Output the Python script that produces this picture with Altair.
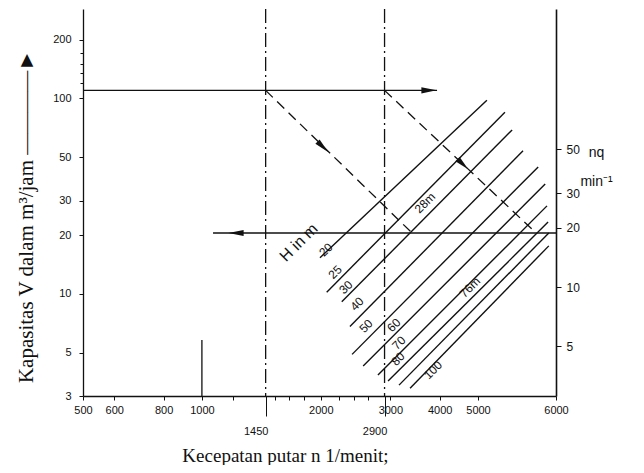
import altair as alt
import pandas as pd

# ---- H lines (head H in m): end points (n in 1/min, V in m3/jam)
H_m = [20, 25, 30, 40, 50, 60, 70, 80, 90, 100]
H_n_lo = [1990, 2070, 2260, 2370, 2400, 2560, 2790, 2960, 3155, 3365]
H_V_lo = [15.3, 10.2, 9.1, 6.8, 4.9, 4.27, 3.84, 3.58, 3.41, 3.29]
H_n_hi = [5105, 5325, 5415, 5555, 5755, 5850, 5875, 5890, 5900, 5900]
H_V_hi = [98, 85, 69, 54, 44.6, 36.5, 28.2, 23.3, 20.5, 17.6]

# labels written along the H lines
lab_text = ["20", "25", "30", "40", "50", "60", "70", "80", "100", "28m", "76m"]
lab_n = [2061, 2173, 2316, 2470, 2603, 3064, 3155, 3137, 3847, 3671, 4771]
lab_V = [16.8, 12.9, 10.8, 8.87, 6.84, 6.92, 5.6, 4.64, 4.07, 29.2, 10.8]

hlab_text = ["H  in  m"]
hlab_n = [1760]
hlab_V = [18.3]

# chosen speeds (dash-dot verticals)
speed_n = [1450, 2900]
speed_V_top = [287, 287]
speed_V_bot = [3, 3]

# dashed construction diagonals
diag_n1 = [1450, 2900]
diag_V1 = [110, 110]
diag_n2 = [3403, 5726]
diag_V2 = [20.5, 20.5]

# horizontal reading lines
hor_n1 = [500, 1067]
hor_n2 = [3938, 6000]
hor_V = [110, 20.5]

# arrow heads
arr_n = [3757, 1220, 2025, 4581]
arr_V = [110, 20.5, 56.5, 46.0]
arr_angle = [90, 270, 134, 134]

# short solid mark at n = 1000
mark_n = [1000]
mark_V1 = [3]
mark_V2 = [5.8]

# axis ticks
x_ticks = [500, 600, 800, 1000, 1200, 1450, 1530, 1660, 1810, 2000, 2220, 2420, 2640,
           2900, 3000, 4000, 5000, 6000]
x_labeled = [500, 600, 800, 1000, 1450, 2000, 2900, 3000, 4000, 5000, 6000]
y_ticks = [3, 5, 10, 20, 30, 50, 100, 120, 135, 150, 170, 200]
y_labeled = [3, 5, 10, 20, 30, 50, 100, 200]
nq_ticks = [5, 10, 20, 30, 50]

# ---------------- scales & axes ----------------
xscale = alt.Scale(type="log", domain=[500, 5000, 6000], range=[0, 395, 473], nice=False)
yscale = alt.Scale(type="log", domain=[3, 287], nice=False)
nqscale = alt.Scale(type="log", domain=[2.8, 257.7], nice=False)

sel = "datum.value == 1450 || datum.value == 2900"
xaxis = alt.Axis(
    values=x_ticks, format="d",
    labelExpr="indexof(%s, datum.value) >= 0 ? datum.label : ''" % str(x_labeled),
    tickSize={"condition": {"test": sel, "value": 20}, "value": 4},
    labelPadding={"condition": {"test": sel, "value": 9}, "value": 4},
    labelOffset={"condition": {"test": sel, "value": -10}, "value": 0},
    labelOverlap=False, labelFlush=False, grid=False,
    labelFont="Liberation Sans", labelFontSize=11,
    title="Kecepatan putar n  1/menit;", titleFont="Liberation Serif",
    titleFontSize=19, titleFontWeight="normal", titleX=202, titleY=59,
    titleAlign="center", titleBaseline="middle", domainWidth=1.3,
)
yaxis = alt.Axis(
    values=y_ticks, format="d",
    labelExpr="indexof(%s, datum.value) >= 0 ? datum.label : ''" % str(y_labeled),
    tickSize={"condition": {"test": "indexof(%s, datum.value) >= 0" % str(y_labeled), "value": 4}, "value": 3},
    labelPadding=8, labelOverlap=False, grid=False,
    labelFont="Liberation Sans", labelFontSize=11,
    title="Kapasitas V dalam m\u00b3/jam      \u2014\u2014\u2014\u2014\u25ba",
    titleFont="Liberation Serif", titleFontSize=21, titleFontWeight="normal",
    titleAngle=270, titleX=-57, titleY=207, titleAlign="center", titleBaseline="middle",
    domainWidth=1.3,
)
nqaxis = alt.Axis(
    orient="right", values=nq_ticks, format="d", grid=False,
    tickSize=5, labelPadding=5, labelFont="Liberation Sans", labelFontSize=12,
    title=["nq", "min\u207b\u00b9"], titleAngle=0, titleX=40, titleY=143,
    titleAlign="center", titleBaseline="middle", titleFont="Liberation Sans",
    titleFontSize=14, titleFontWeight="normal", titleLineHeight=29, domainWidth=1.6,
)


def X(f):
    return alt.X(f, type="quantitative", scale=xscale, axis=xaxis)


def Y(f):
    return alt.Y(f, type="quantitative", scale=yscale, axis=yaxis)


INK = "#111111"

h_df = pd.DataFrame({"H": H_m, "n1": H_n_lo, "V1": H_V_lo, "n2": H_n_hi, "V2": H_V_hi})
h_layer = alt.Chart(h_df).mark_rule(color=INK, strokeWidth=1.4).encode(
    x=X("n1"), x2=alt.X2("n2"), y=Y("V1"), y2=alt.Y2("V2"))

sp_df = pd.DataFrame({"n": speed_n, "Vt": speed_V_top, "Vb": speed_V_bot})
sp_layer = alt.Chart(sp_df).mark_rule(color=INK, strokeWidth=1.3, strokeDash=[14, 4, 2, 4]).encode(
    x=X("n"), y=Y("Vt"), y2=alt.Y2("Vb"))

dg_df = pd.DataFrame({"n1": diag_n1, "V1": diag_V1, "n2": diag_n2, "V2": diag_V2})
dg_layer = alt.Chart(dg_df).mark_rule(color=INK, strokeWidth=1.3, strokeDash=[10, 6]).encode(
    x=X("n1"), x2=alt.X2("n2"), y=Y("V1"), y2=alt.Y2("V2"))

hr_df = pd.DataFrame({"n1": hor_n1, "n2": hor_n2, "V": hor_V})
hr_layer = alt.Chart(hr_df).mark_rule(color=INK, strokeWidth=1.4).encode(
    x=X("n1"), x2=alt.X2("n2"), y=Y("V"))

mk_df = pd.DataFrame({"n": mark_n, "V1": mark_V1, "V2": mark_V2})
mk_layer = alt.Chart(mk_df).mark_rule(color=INK, strokeWidth=1.3).encode(
    x=X("n"), y=Y("V1"), y2=alt.Y2("V2"))

ar_df = pd.DataFrame({"n": arr_n, "V": arr_V, "a": arr_angle})
ar_layer = alt.Chart(ar_df).mark_point(
    shape="M0,-1L0.4,1L-0.4,1Z", filled=True, color=INK, opacity=1, size=230
).encode(x=X("n"), y=Y("V"), angle=alt.Angle("a:Q", scale=None))

lb_df = pd.DataFrame({"t": lab_text, "n": lab_n, "V": lab_V})
lb_layer = alt.Chart(lb_df).mark_text(
    angle=315, font="Liberation Sans", fontSize=12, color=INK, align="center", baseline="middle"
).encode(x=X("n"), y=Y("V"), text="t:N")

hl_df = pd.DataFrame({"t": hlab_text, "n": hlab_n, "V": hlab_V})
hl_layer = alt.Chart(hl_df).mark_text(
    angle=315, font="Liberation Sans", fontSize=16, color=INK, align="center", baseline="middle"
).encode(x=X("n"), y=Y("V"), text="t:N")

v_layers = alt.layer(h_layer, sp_layer, dg_layer, hr_layer, mk_layer, ar_layer, lb_layer, hl_layer)

nq_df = pd.DataFrame({"n": [6000] * len(nq_ticks), "nq": nq_ticks})
nq_layer = alt.Chart(nq_df).mark_point(opacity=0).encode(
    x=X("n"), y=alt.Y("nq", type="quantitative", scale=nqscale, axis=nqaxis))

chart = alt.layer(v_layers, nq_layer).resolve_scale(y="independent").properties(
    width=473, height=387,
    autosize=alt.AutoSizeParams(type="none"),
    padding={"left": 75, "top": 1, "right": 80, "bottom": 69},
    background="white",
).configure_view(stroke=None).configure_axis(
    domainColor=INK, tickColor=INK, labelColor=INK, titleColor=INK
)

chart.save("out.html", embed_options={"renderer": "svg", "actions": False})
